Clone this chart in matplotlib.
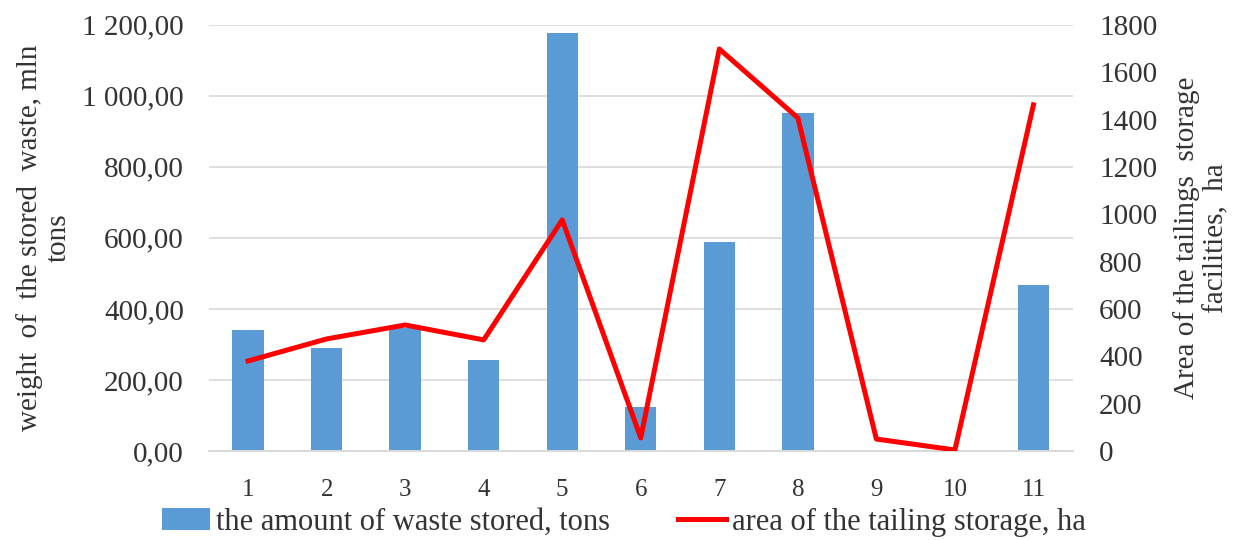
import numpy as np
import matplotlib.pyplot as plt
from matplotlib.ticker import FuncFormatter, MultipleLocator

# data
categories = ['1', '2', '3', '4', '5', '6', '7', '8', '9', '10', '11']
waste_stored = [341, 290, 346, 256, 1177, 124, 589, 952, 0, 0, 468]
tailing_area = [380, 473, 532, 469, 976, 55, 1698, 1407, 50, 4, 1462]

plt.rcParams['font.family'] = ['Liberation Serif', 'DejaVu Serif']
text_color = '#333333'

fig = plt.figure(figsize=(12.43, 5.4), dpi=100)
ax = fig.add_axes([0.168, 0.165, 0.695, 0.789])
ax2 = ax.twinx()

x = np.arange(len(categories))
bars = ax.bar(x, waste_stored, width=0.4, color='#5b9bd5', zorder=2,
              label='the amount of waste stored, tons')
line, = ax2.plot(x, tailing_area, color='#ff0000', linewidth=3.6, zorder=3,
                 label='area of the tailing storage, ha')

ax.set_xlim(-0.5, len(categories) - 0.5)
ax.set_ylim(0, 1200)
ax2.set_ylim(0, 1800)
ax.yaxis.set_major_locator(MultipleLocator(200))
ax2.yaxis.set_major_locator(MultipleLocator(200))

def fmt_left(v, pos):
    # space as thousands separator, comma as decimal mark
    return f'{v:,.2f}'.replace(',', ' ').replace('.', ',')

ax.yaxis.set_major_formatter(FuncFormatter(fmt_left))
ax.set_xticks(x)
ax.set_xticklabels(categories)

ax.grid(axis='y', color='#d9d9d9', linewidth=1.2, zorder=0)
ax.set_axisbelow(True)
for a in (ax, ax2):
    for s in ['top', 'left', 'right']:
        a.spines[s].set_visible(False)
    a.spines['bottom'].set_color('#d9d9d9')
    a.spines['bottom'].set_linewidth(1.2)
    a.tick_params(length=0, labelsize=21, colors=text_color)
ax.tick_params(axis='y', pad=18)
ax.tick_params(axis='x', labelsize=18, pad=20)
ax2.tick_params(axis='y', pad=19)

ax.set_ylabel('weight  of  the stored  waste, mln\ntons', fontsize=21, color=text_color,
              linespacing=1.15)
ax.yaxis.set_label_coords(-0.1586, 0.5)
ax2.set_ylabel('Area of the tailings  storage\nfacilities,  ha', fontsize=21, color=text_color,
               linespacing=1.2)
ax2.yaxis.set_label_coords(1.1157, 0.5)

fig.legend([bars, line], [bars.get_label(), line.get_label()], loc='center',
           bbox_to_anchor=(0.502, 0.033), ncol=2, frameon=False, fontsize=22,
           handlelength=1.57, handletextpad=0.2, columnspacing=2.2, labelcolor=text_color)

fig.savefig('out.png', dpi=100)
